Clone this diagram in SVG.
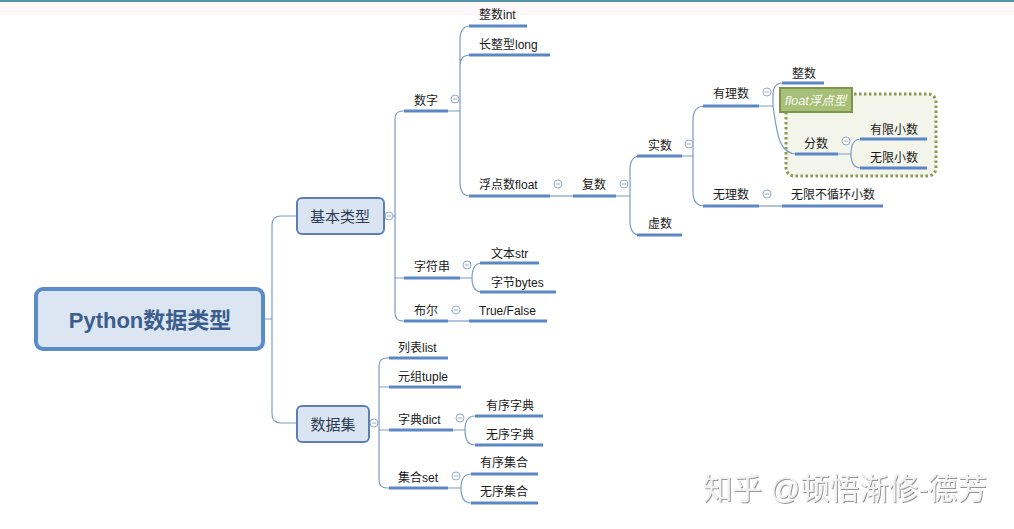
<svg xmlns="http://www.w3.org/2000/svg" width="1014" height="529" viewBox="0 0 1014 529">
<defs>
<style>
.t{font-family:"Liberation Sans","Noto Sans CJK SC",sans-serif;font-size:12px;fill:#1a1a1a}
.ul{stroke:#5b87c4;stroke-width:3;fill:none}
.cn{stroke:#7b9bc8;stroke-width:1.2;fill:none}
.cc{fill:#fff;stroke:#93abcf;stroke-width:1}
.cm{stroke:#93abcf;stroke-width:1}
.mid{font-family:"Liberation Sans","Noto Sans CJK SC",sans-serif;font-size:15px;fill:#2b3a55;text-anchor:middle}
</style>
<filter id="emb" x="-5%" y="-20%" width="110%" height="140%">
<feDropShadow dx="1" dy="1" stdDeviation="0.6" flood-color="#8a8a8a" flood-opacity="0.9"/>
</filter>
<g id="col"><circle class="cc" r="4"/><line class="cm" x1="-2.2" y1="0" x2="2.2" y2="0"/></g>
</defs>
<rect width="1014" height="529" fill="#fff"/>
<rect x="0" y="2" width="1014" height="13" fill="#fdf9fb"/>
<line x1="0" y1="1" x2="1014" y2="1" stroke="#5595a6" stroke-width="2"/>

<g id="float-region">
<rect x="786" y="94" width="150" height="82" rx="8" fill="#f3f5ea" stroke="#8c9a52" stroke-width="3" stroke-dasharray="2.5 2.5"/>
</g>

<g id="connectors">
<path class="cn" d="M263,319 H272 M272,319 V225 Q272,216 281,216 H297 M272,319 V414 Q272,423 281,423 H297"/>
<path class="cn" d="M384,216 H395 M395,216 V119 Q395,111 403,111 H404 M395,216 V278 H404 M395,216 V313 Q395,321 403,321 H404"/>
<path class="cn" d="M448,111 H460 M460,111 V40 Q460,26 470,26 M460,111 V66 Q460,55 470,55 M460,111 V182 Q460,196 470,196"/>
<path class="cn" d="M550,196 H573"/>
<path class="cn" d="M616,196 H630 M630,196 V170 Q630,156 640,156 M630,196 V221 Q630,235 640,235"/>
<path class="cn" d="M682,156 H693 M693,156 V120 Q693,106 705,106 M693,156 V192 Q693,206 705,206"/>
<path class="cn" d="M759,106 H773 M773,106 V95 Q773,83 783,83 M773,106 C777,132 778,154 797,154"/>
<path class="cn" d="M838,154 H851 M851,154 Q851,139 861,139 M851,154 Q851,168 861,168"/>
<path class="cn" d="M759,206 H782"/>
<path class="cn" d="M460,278 H472 M472,278 Q472,263 482,263 M472,278 Q472,292 482,292"/>
<path class="cn" d="M448,321 H469"/>
<path class="cn" d="M369,423 H379 M379,423 V366 Q379,358 387,358 H389 M379,423 V387 H389 M379,423 V430 H389 M379,423 V480 Q379,488 387,488 H389"/>
<path class="cn" d="M453,430 H465 M465,430 Q465,416 475,416 M465,430 Q465,445 475,445"/>
<path class="cn" d="M448,488 H461 M461,488 Q461,474 471,474 M461,488 Q461,503 471,503"/>
</g>

<g id="root">
<rect x="36" y="289" width="227" height="60" rx="7" fill="#dce6f2" stroke="#5b8bc8" stroke-width="4"/>
<text x="150" y="327.5" text-anchor="middle" font-family="Liberation Sans,'Noto Sans CJK SC',sans-serif" font-size="22" font-weight="bold" fill="#3c5e8e">Python数据类型</text>
</g>

<g id="n-basic">
<rect x="297" y="198" width="87" height="36" rx="5" fill="#dbe5f2" stroke="#5a80b5" stroke-width="2"/>
<text class="mid" x="340" y="221.5">基本类型</text>
<use href="#col" x="389" y="216"/>
</g>
<g id="n-dataset">
<rect x="297" y="406" width="72" height="36" rx="5" fill="#dbe5f2" stroke="#5a80b5" stroke-width="2"/>
<text class="mid" x="333" y="429.5">数据集</text>
<use href="#col" x="374" y="423"/>
</g>

<g id="n-number"><line class="ul" x1="404" y1="111" x2="448" y2="111"/><text class="t" x="414" y="104.5">数字</text><use href="#col" x="455" y="99"/></g>
<g id="n-int"><line class="ul" x1="469" y1="26" x2="527" y2="26"/><text class="t" x="479" y="18.5">整数int</text></g>
<g id="n-long"><line class="ul" x1="469" y1="55" x2="550" y2="55"/><text class="t" x="479" y="48.5">长整型long</text></g>
<g id="n-float"><line class="ul" x1="469" y1="196" x2="550" y2="196"/><text class="t" x="479" y="188.5">浮点数float</text><use href="#col" x="558" y="184"/></g>
<g id="n-complex"><line class="ul" x1="573" y1="196" x2="616" y2="196"/><text class="t" x="582" y="188.5">复数</text><use href="#col" x="624" y="184"/></g>
<g id="n-real"><line class="ul" x1="637" y1="156" x2="682" y2="156"/><text class="t" x="648" y="149.5">实数</text><use href="#col" x="689" y="144"/></g>
<g id="n-imag"><line class="ul" x1="637" y1="235" x2="682" y2="235"/><text class="t" x="648" y="227.5">虚数</text></g>
<g id="n-rational"><line class="ul" x1="703" y1="106" x2="759" y2="106"/><text class="t" x="713" y="97.5">有理数</text><use href="#col" x="767" y="92"/></g>
<g id="n-irrational"><line class="ul" x1="703" y1="206" x2="759" y2="206"/><text class="t" x="713" y="198.5">无理数</text><use href="#col" x="767" y="194"/></g>
<g id="n-integer"><line class="ul" x1="782" y1="83" x2="824" y2="83"/><text class="t" x="792" y="77.5">整数</text></g>
<g id="n-fraction"><line class="ul" x1="795" y1="154" x2="838" y2="154"/><text class="t" x="804" y="147.5">分数</text><use href="#col" x="846" y="141"/></g>
<g id="n-finite"><line class="ul" x1="860" y1="139" x2="927" y2="139"/><text class="t" x="870" y="133.5">有限小数</text></g>
<g id="n-infinite"><line class="ul" x1="860" y1="168" x2="927" y2="168"/><text class="t" x="870" y="161.5">无限小数</text></g>
<g id="n-nonrepeat"><line class="ul" x1="782" y1="206" x2="883" y2="206"/><text class="t" x="791" y="198.5">无限不循环小数</text></g>
<g id="float-label">
<rect x="780" y="88" width="72" height="24" fill="#a7bf78" stroke="#7d9648" stroke-width="2"/>
<text x="785" y="104.5" font-family="Liberation Sans,'Noto Sans CJK SC',sans-serif" font-size="12.5" font-style="italic" fill="#fbfdf5">float浮点型</text>
</g>

<g id="n-string"><line class="ul" x1="404" y1="278" x2="460" y2="278"/><text class="t" x="414" y="270.5">字符串</text><use href="#col" x="467" y="265"/></g>
<g id="n-str"><line class="ul" x1="480" y1="263" x2="539" y2="263"/><text class="t" x="491" y="257.5">文本str</text></g>
<g id="n-bytes"><line class="ul" x1="480" y1="292" x2="556" y2="292"/><text class="t" x="491" y="286.5">字节bytes</text></g>
<g id="n-bool"><line class="ul" x1="404" y1="321" x2="448" y2="321"/><text class="t" x="414" y="314.5">布尔</text><use href="#col" x="456" y="310"/></g>
<g id="n-truefalse"><line class="ul" x1="469" y1="321" x2="547" y2="321"/><text class="t" x="479" y="314.5">True/False</text></g>

<g id="n-list"><line class="ul" x1="389" y1="358" x2="448" y2="358"/><text class="t" x="398" y="351.5">列表list</text></g>
<g id="n-tuple"><line class="ul" x1="389" y1="387" x2="461" y2="387"/><text class="t" x="398" y="380.5">元组tuple</text></g>
<g id="n-dict"><line class="ul" x1="389" y1="430" x2="453" y2="430"/><text class="t" x="398" y="423.5">字典dict</text><use href="#col" x="460" y="418"/></g>
<g id="n-odict"><line class="ul" x1="475" y1="416" x2="543" y2="416"/><text class="t" x="486" y="409.5">有序字典</text></g>
<g id="n-udict"><line class="ul" x1="475" y1="445" x2="543" y2="445"/><text class="t" x="486" y="438.5">无序字典</text></g>
<g id="n-set"><line class="ul" x1="389" y1="488" x2="448" y2="488"/><text class="t" x="398" y="481.5">集合set</text><use href="#col" x="456" y="476"/></g>
<g id="n-oset"><line class="ul" x1="471" y1="474" x2="538" y2="474"/><text class="t" x="480" y="466.5">有序集合</text></g>
<g id="n-uset"><line class="ul" x1="471" y1="503" x2="538" y2="503"/><text class="t" x="480" y="495.5">无序集合</text></g>

<text x="703" y="498.5" font-family="Liberation Sans,'Noto Sans CJK SC',sans-serif" font-size="29.5" fill="#f2f2f2" filter="url(#emb)">知乎 @顿悟渐修-德芳</text>
</svg>
